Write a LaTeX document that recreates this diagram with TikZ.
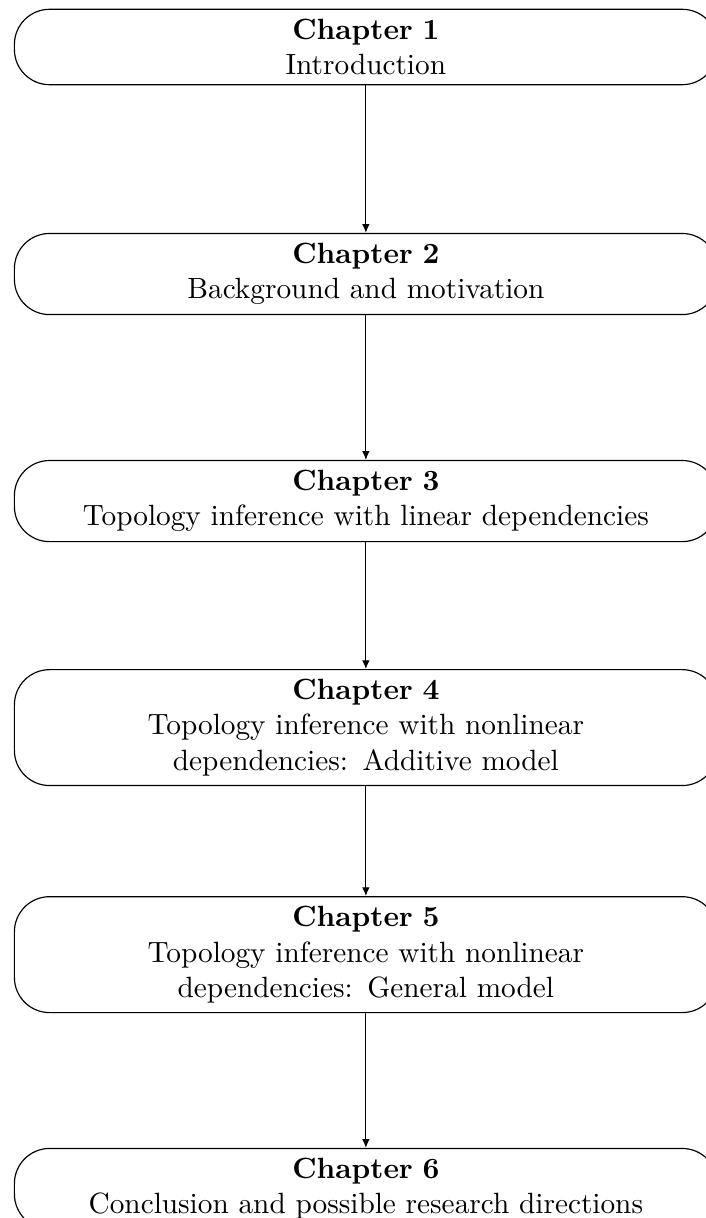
\documentclass[tikz,border=0pt]{standalone}
\usepackage{tikz}
\usetikzlibrary{arrows.meta,positioning}
\hyphenpenalty=10000
\exhyphenpenalty=10000
\tikzset{
  chap/.style={draw, rounded corners=12pt, align=center, text width=8.2cm, inner sep=3.33pt},
  flow/.style={-{Latex[length=3pt,width=2.6pt]}},
}

\begin{document}
\begin{tikzpicture}
  \useasboundingbox (-4.39,0.564) rectangle (4.07,-14.05);
  \node[chap] (ch1) at (0,0)      {\textbf{Chapter 1}\\Introduction};
  \node[chap] (ch2) at (0,-2.724) {\textbf{Chapter 2}\\Background and motivation};
  \node[chap] (ch3) at (0,-5.448) {\textbf{Chapter 3}\\Topology inference with linear dependencies};
  \node[chap] (ch4) at (0,-8.166) {\textbf{Chapter 4}\\Topology inference with nonlinear dependencies: Additive model};
  \node[chap] (ch5) at (0,-10.89) {\textbf{Chapter 5}\\Topology inference with nonlinear dependencies: General model};
  \node[chap] (ch6) at (0,-13.70) {\textbf{Chapter 6}\\Conclusion and possible research directions};
  \draw[flow] (ch1) -- (ch2);
  \draw[flow] (ch2) -- (ch3);
  \draw[flow] (ch3) -- (ch4);
  \draw[flow] (ch4) -- (ch5);
  \draw[flow] (ch5) -- (ch6);
\end{tikzpicture}
\end{document}
